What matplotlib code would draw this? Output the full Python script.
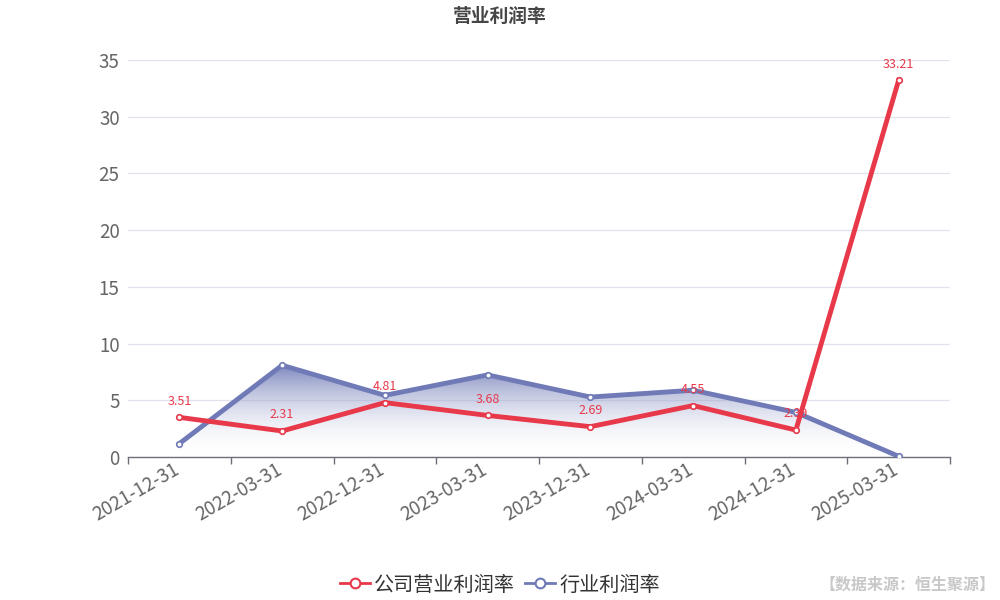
import numpy as np
import matplotlib
matplotlib.use("Agg")
import matplotlib.pyplot as plt
import matplotlib.transforms as mtransforms
from matplotlib.patches import Polygon
from matplotlib.lines import Line2D

plt.rcParams['font.family'] = ['Noto Sans CJK SC', 'DejaVu Sans']

dates = ["2021-12-31", "2022-03-31", "2022-12-31", "2023-03-31",
         "2023-12-31", "2024-03-31", "2024-12-31", "2025-03-31"]
company = [3.51, 2.31, 4.81, 3.68, 2.69, 4.55, 2.39, 33.21]
industry = [1.2, 8.1, 5.45, 7.25, 5.3, 5.9, 3.95, 0.08]

red = "#e8394a"
blue = "#6f7ab7"

fig = plt.figure(figsize=(10, 6), dpi=100)
ax = fig.add_axes([0.128, 0.238, 0.822, 0.662])

x = np.arange(len(dates))
ax.set_xlim(-0.5, len(dates) - 0.5)
ax.set_ylim(0, 35)

# gradient fill under the industry line
grad = np.linspace(0, 1, 256).reshape(-1, 1)
cmap = matplotlib.colors.LinearSegmentedColormap.from_list(
    "fade", [(1, 1, 1, 0.0), (0x6f / 255, 0x7a / 255, 0xb7 / 255, 0.9)])
ymax_ind = max(industry)
img = ax.imshow(grad, cmap=cmap, aspect="auto", origin="lower",
                extent=[x[0], x[-1], 0, ymax_ind], zorder=1)
poly = Polygon(np.column_stack([np.r_[x[0], x, x[-1]], np.r_[0, industry, 0]]),
               closed=True, facecolor="none", edgecolor="none")
ax.add_patch(poly)
img.set_clip_path(poly)

ax.plot(x, industry, color=blue, lw=3.5, marker="o", ms=4,
        mfc="white", mec=blue, mew=1.2, zorder=3, solid_joinstyle="round")
ax.plot(x, company, color=red, lw=3.5, marker="o", ms=4,
        mfc="white", mec=red, mew=1.2, zorder=4, solid_joinstyle="round")

for xi, v in zip(x, company):
    ax.annotate(f"{v:.2f}", (xi, v), xytext=(0, 7), textcoords="offset points",
                ha="center", va="bottom", color=red, fontsize=9, zorder=5)

ax.set_yticks(np.arange(0, 36, 5))
ax.yaxis.grid(True, color="#e0e3ee", lw=0.9)
ax.set_axisbelow(True)
ax.tick_params(axis="y", length=0, colors="#666666", labelsize=13.5, pad=6)

ax.set_xticks(x)
ax.set_xticklabels(dates, rotation=30, ha="right", va="top", rotation_mode="anchor")
ax.tick_params(axis="x", length=0, colors="#666666", labelsize=13.5, pad=4)
ax.set_xticks(np.arange(-0.5, len(dates)), minor=True)
ax.tick_params(axis="x", which="minor", length=5, color="#6e7079", width=1)

# nudge the rotated date labels slightly left and up
shift = mtransforms.ScaledTranslation(-7 / 100, 4 / 100, fig.dpi_scale_trans)
for lbl in ax.get_xticklabels():
    lbl.set_transform(lbl.get_transform() + shift)

for s in ["top", "right", "left"]:
    ax.spines[s].set_visible(False)
ax.spines["bottom"].set_color("#6e7079")
ax.spines["bottom"].set_linewidth(1)

fig.text(0.5, 0.972, "营业利润率", ha="center", va="center",
         fontsize=13.5, fontweight="bold", color="#464646")

handles = [
    Line2D([0], [0], color=red, lw=2, marker="o", ms=7, mfc="white", mec=red, mew=1.5),
    Line2D([0], [0], color=blue, lw=2, marker="o", ms=7, mfc="white", mec=blue, mew=1.5),
]
fig.legend(handles, ["公司营业利润率", "行业利润率"], loc="center",
           bbox_to_anchor=(0.5, 0.025), ncol=2, frameon=False, fontsize=14.5,
           handlelength=1.5, handletextpad=0.2, columnspacing=0.5,
           labelcolor="#333333")

fig.text(0.995, 0.025, "【数据来源：恒生聚源】", ha="right", va="center",
         fontsize=11.5, color="#c8c8c8", fontweight="bold")

fig.savefig("out.png", dpi=100)
